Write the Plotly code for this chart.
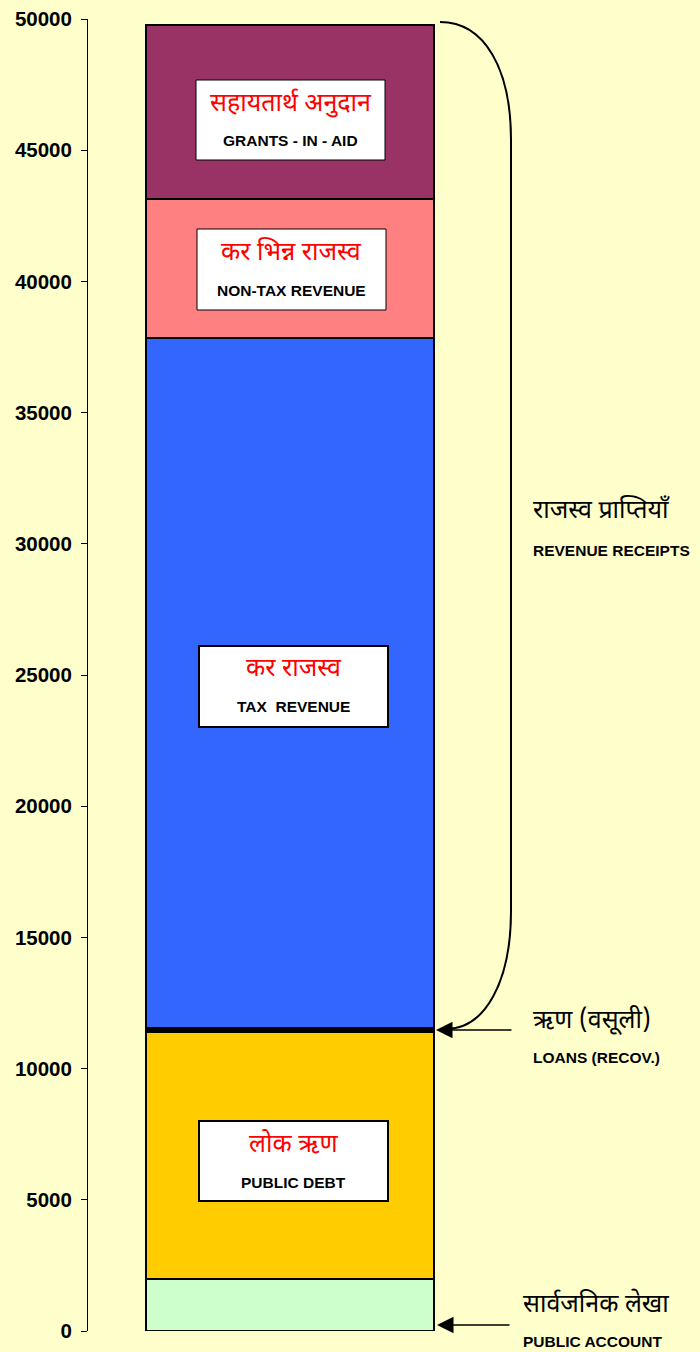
import plotly.graph_objects as go

# ---- data (Rs. crore, stacked from bottom) ----
segments_en = ["PUBLIC ACCOUNT", "PUBLIC DEBT", "LOANS (RECOV.)", "TAX  REVENUE", "NON-TAX REVENUE", "GRANTS - IN - AID"]
segments_hi = ["सार्वजनिक लेखा", "लोक ऋण", "ऋण (वसूली)", "कर राजस्व", "कर भिन्न राजस्व", "सहायतार्थ अनुदान"]
segment_values = [2000, 9400, 150, 26300, 5290, 6630]
segment_colors = ["#CCFFCC", "#FFCC00", "#000000", "#3366FF", "#FF8080", "#993366"]
y_ticks = [0, 5000, 10000, 15000, 20000, 25000, 30000, 35000, 40000, 45000, 50000]
group_hi = "राजस्व प्राप्तियाँ"
group_en = "REVENUE RECEIPTS"

W, H = 700, 1352
ML, MR, MT, MB = 88, 0, 19, 21
PW = W - ML - MR
PH = H - MT - MB
YMAX = 50000
BAR_L, BAR_R = 146, 434
BAR_PX = BAR_R - BAR_L
BAR_C = (BAR_L + BAR_R) / 2

def px2paper(px):
    return (px - ML) / PW

def py2paper(py):
    return (MT + PH - py) / PH

def py2val(py):
    return py2paper(py) * YMAX

DEV = "Noto Sans Devanagari, Lohit Devanagari, FreeSans, Noto Sans, sans-serif"
ARIAL = "Liberation Sans, Arial, sans-serif"

fig = go.Figure()
cat = ["Receipts"]
for en, v, c in zip(segments_en, segment_values, segment_colors):
    fig.add_trace(go.Bar(x=cat, y=[v], name=en, width=1.0,
                         marker=dict(color=c, line=dict(color="black", width=2)),
                         hoverinfo="name+y"))

x0 = -(BAR_C - ML) / BAR_PX
x1 = (W - MR - BAR_C) / BAR_PX

shapes = []
annotations = []

# white label boxes inside bar
boxes = [
    # (left, right, top, bottom, idx, hi_y, en_y, border width)
    (196, 385, 80, 160, 5, 104, 140, 1),
    (197, 386, 229, 310, 4, 253, 290, 1),
    (199, 388, 646, 727, 3, 670, 706, 2),
    (199, 388, 1121, 1201, 1, 1145, 1182, 2),
]
for l, r, t, b, idx, hy, ey, bw in boxes:
    shapes.append(dict(type="rect", xref="paper", yref="paper",
                       x0=px2paper(l), x1=px2paper(r), y0=py2paper(b), y1=py2paper(t),
                       fillcolor="white", line=dict(color="black", width=bw), layer="above"))
    cx = px2paper((l + r) / 2)
    annotations.append(dict(xref="paper", yref="paper", x=cx, y=py2paper(hy), text=segments_hi[idx],
                            showarrow=False, font=dict(family=DEV, size=25, color="#FF0000"),
                            xanchor="center", yanchor="middle"))
    annotations.append(dict(xref="paper", yref="paper", x=cx, y=py2paper(ey), text="<b>" + segments_en[idx] + "</b>",
                            showarrow=False, font=dict(family=ARIAL, size=15.5, color="black"),
                            xanchor="center", yanchor="middle"))

# brace for revenue receipts (from loans top to total)
rr_bottom = sum(segment_values[:3])
def P(px, v):
    return f"{px2paper(px):.5f},{v:.2f}"
yt = py2val(22)
yb = rr_bottom - 40
k = 4500
path = (f"M {P(440, yt)} C {P(485, yt)} {P(511, yt - 1800)} {P(511, yt - k)} "
        f"L {P(511, yb + k)} C {P(511, yb + 1800)} {P(485, yb)} {P(446, yb)}")
shapes.append(dict(type="path", xref="paper", yref="y", path=path,
                   line=dict(color="black", width=2), layer="above"))

# arrows
arrows = [(436, rr_bottom - 80, 77), (437, py2val(1325), 74)]
for tipx, yv, length in arrows:
    annotations.append(dict(xref="paper", yref="y", x=px2paper(tipx), y=yv, ax=length, ay=0,
                            text="", showarrow=True,
                            arrowhead=2, arrowsize=2.2, arrowwidth=1.5, arrowcolor="black"))

# right side labels
side = [
    (533, 512, 550, group_hi, group_en),
    (533, 1021, 1057, segments_hi[2], segments_en[2]),
    (523, 1305, 1341, segments_hi[0], segments_en[0]),
]
for lx, hy, ey, hi, en in side:
    annotations.append(dict(xref="paper", yref="paper", x=px2paper(lx - 2), y=py2paper(hy), text=hi,
                            showarrow=False, font=dict(family=DEV, size=25, color="black"),
                            xanchor="left", yanchor="middle"))
    annotations.append(dict(xref="paper", yref="paper", x=px2paper(lx - 2), y=py2paper(ey), text="<b>" + en + "</b>",
                            showarrow=False, font=dict(family=ARIAL, size=15.5, color="black"),
                            xanchor="left", yanchor="middle"))

fig.update_layout(
    width=W, height=H,
    margin=dict(l=ML, r=MR, t=MT, b=MB),
    paper_bgcolor="#FFFFCC", plot_bgcolor="#FFFFCC",
    barmode="stack", showlegend=False,
    shapes=shapes, annotations=annotations,
    xaxis=dict(range=[x0, x1], visible=False, fixedrange=True),
    yaxis=dict(range=[0, YMAX], tickvals=y_ticks, ticktext=[str(t) for t in y_ticks],
               ticks="outside", ticklen=6, tickwidth=1, tickcolor="black",
               showline=True, linecolor="black", linewidth=1, showgrid=False, zeroline=False,
               ticklabelstandoff=5, fixedrange=True,
               tickfont=dict(family=ARIAL, size=20.5, color="black", weight="bold")),
)

fig.write_html("out.html", config={"displayModeBar": False},
               post_script="document.body.style.margin='0';document.body.style.background='#FFFFCC';")
